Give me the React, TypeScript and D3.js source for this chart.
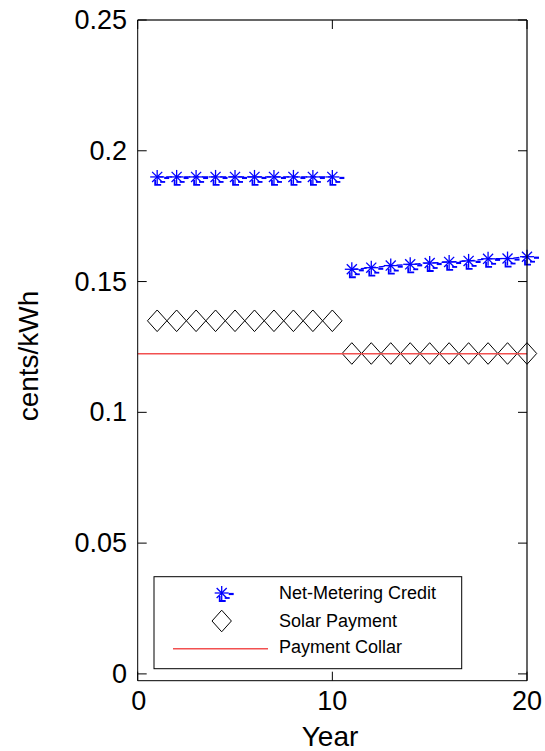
import React from "react";
import * as d3 from "d3";

const years1 = [1, 2, 3, 4, 5, 6, 7, 8, 9, 10];
const years2 = [11, 12, 13, 14, 15, 16, 17, 18, 19, 20];
const netMetering1 = [0.19, 0.19, 0.19, 0.19, 0.19, 0.19, 0.19, 0.19, 0.19, 0.19];
const netMetering2 = [0.1547, 0.1553, 0.1561, 0.1566, 0.1571, 0.1575, 0.1579, 0.1587, 0.1588, 0.1595];
const solar1 = [0.135, 0.135, 0.135, 0.135, 0.135, 0.135, 0.135, 0.135, 0.135, 0.135];
const solar2 = [0.1225, 0.1225, 0.1225, 0.1225, 0.1225, 0.1225, 0.1225, 0.1225, 0.1225, 0.1225];
const collarX = [0, 20];
const collarY = [0.1225, 0.1225];
const xTicks = [0, 10, 20];
const yTicks = [0, 0.05, 0.1, 0.15, 0.2, 0.25];
const yTickLabels = ["0", "0.05", "0.1", "0.15", "0.2", "0.25"];
const legendLabels = ["Net-Metering Credit", "Solar Payment", "Payment Collar"];

const W = 545, H = 751;
const L = 137.7, R = 527, T = 20, B = 680.7;
const FONT = "'Liberation Sans', Arial, Helvetica, sans-serif";
const BLUE = "#0000ff";
const RED = "#f25050";

const x = d3.scaleLinear().domain([0, 20]).range([L, R]);
const y = d3.scaleLinear().domain([-0.0026, 0.25]).range([B, T]);

function Star({ cx, cy }: { cx: number; cy: number }) {
  const r = 7;
  const d = r * 0.72;
  return (
    <g stroke={BLUE} fill="none">
      <line x1={cx - r} y1={cy} x2={cx + r} y2={cy} strokeWidth={1.3} />
      <line x1={cx} y1={cy - r} x2={cx} y2={cy + r} strokeWidth={1.3} />
      <line x1={cx - d} y1={cy - d} x2={cx + d} y2={cy + d} strokeWidth={1.3} />
      <line x1={cx - d} y1={cy + d} x2={cx + d} y2={cy - d} strokeWidth={1.3} />
      <path d={`M${cx - 2},${cy + 3}V${cy + 8}H${cx + 4}`} strokeWidth={1.8} />
      <line x1={cx + 3} y1={cy + 5} x2={cx + 8} y2={cy + 5} strokeWidth={1.8} />
      <line x1={cx + 7} y1={cy + 1} x2={cx + 12} y2={cy + 1} strokeWidth={2.2} />
    </g>
  );
}

function Diamond({ cx, cy }: { cx: number; cy: number }) {
  const w = 9.7, h = 10.8;
  return (
    <path
      d={`M${cx},${cy - h}L${cx + w},${cy}L${cx},${cy + h}L${cx - w},${cy}Z`}
      fill="none"
      stroke="#000"
      strokeWidth={1}
    />
  );
}

export default function App() {
  const line = d3.line<[number, number]>().x((d) => x(d[0])).y((d) => y(d[1]));
  const nm1 = years1.map((v, i) => [v, netMetering1[i]] as [number, number]);
  const nm2 = years2.map((v, i) => [v, netMetering2[i]] as [number, number]);
  const s1 = years1.map((v, i) => [v, solar1[i]] as [number, number]);
  const s2 = years2.map((v, i) => [v, solar2[i]] as [number, number]);
  const cy = Math.round(y(collarY[0]));
  const tickLen = 9;

  const lgL = 154, lgR = 461.7, lgT = 576.7, lgB = 668.7;
  const rowY = [593, 621, 647];
  const mkX = 221.7;
  const txX = 279;

  return (
    <svg width={W} height={H} style={{ position: "absolute", left: 0, top: 0, background: "#fff" }} fontFamily={FONT}>
      <rect x={0} y={0} width={W} height={H} fill="#fff" />
      {/* data */}
      <path d={line(nm1) || ""} stroke={BLUE} strokeWidth={1.2} fill="none" strokeDasharray="6,3" />
      <path d={line(nm2) || ""} stroke={BLUE} strokeWidth={1.2} fill="none" strokeDasharray="6,3" />
      {nm1.concat(nm2).map((d, i) => (
        <Star key={"st" + i} cx={x(d[0])} cy={y(d[1])} />
      ))}
      {s1.concat(s2).map((d, i) => (
        <Diamond key={"dm" + i} cx={x(d[0])} cy={y(d[1])} />
      ))}
      <rect x={x(collarX[0])} y={cy} width={x(collarX[1]) - x(collarX[0])} height={1.5} fill={RED} />
      {/* axes box */}
      <line x1={L} y1={T} x2={R} y2={T} stroke="#333" strokeWidth={1.5} />
      <line x1={L} y1={B} x2={R} y2={B} stroke="#000" strokeWidth={1} />
      <line x1={L} y1={T} x2={L} y2={B} stroke="#000" strokeWidth={1} />
      <line x1={R} y1={T} x2={R} y2={B} stroke="#000" strokeWidth={1.2} />
      {yTicks.map((t, i) => (
        <g key={"yt" + i}>
          <line x1={L} y1={y(t)} x2={L + tickLen} y2={y(t)} stroke="#000" />
          <line x1={R} y1={y(t)} x2={R - tickLen} y2={y(t)} stroke="#000" />
          <text x={127} y={y(t)} fontSize={27} textAnchor="end" dominantBaseline="central" fill="#000">
            {yTickLabels[i]}
          </text>
        </g>
      ))}
      {xTicks.map((t, i) => (
        <g key={"xt" + i}>
          <line x1={x(t)} y1={B} x2={x(t)} y2={B - tickLen} stroke="#000" />
          <line x1={x(t)} y1={T} x2={x(t)} y2={T + tickLen} stroke="#000" />
          <text x={x(t) + (i === 0 ? 1 : 0)} y={710} fontSize={27} textAnchor="middle" fill="#000">
            {String(t)}
          </text>
        </g>
      ))}
      <text x={330} y={746} fontSize={28} textAnchor="middle" fill="#000">Year</text>
      <text transform={`translate(38,356) rotate(-90)`} fontSize={28} textAnchor="middle" fill="#000">
        cents/kWh
      </text>
      {/* legend */}
      <rect x={lgL} y={lgT} width={lgR - lgL} height={lgB - lgT} fill="#fff" stroke="#000" strokeWidth={1} />
      <Star cx={mkX} cy={rowY[0]} />
      <Diamond cx={mkX} cy={rowY[1]} />
      <rect x={173} y={648} width={95} height={1.5} fill={RED} />
      {legendLabels.map((lab, i) => (
        <text key={"lg" + i} x={txX} y={rowY[i]} fontSize={18} dominantBaseline="central" fill="#000">
          {lab}
        </text>
      ))}
    </svg>
  );
}
